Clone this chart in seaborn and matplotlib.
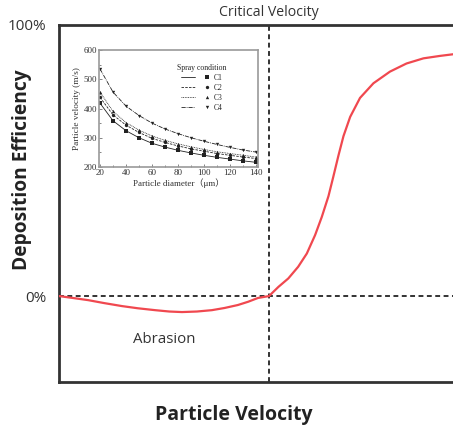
import matplotlib
matplotlib.use("Agg")
import matplotlib.pyplot as plt
from matplotlib.legend_handler import HandlerTuple
from matplotlib.lines import Line2D
import seaborn as sns
import pandas as pd

# Deposition efficiency (%) against particle velocity (arbitrary units)
velocity = [0, 3.5, 7.4, 11.5, 16.0, 20.0, 24.4, 28.0, 31.2, 35.0, 38.8, 42.0,
            45.4, 48.0, 50.5, 53.3, 55.7, 58.2, 60.7, 62.9, 65.0, 66.7, 68.4,
            69.6, 70.9, 72.2, 73.9, 76.4, 79.8, 84.0, 88.2, 92.5, 96.7, 100]
efficiency = [0, -0.7, -1.5, -2.6, -3.7, -4.5, -5.2, -5.7, -5.9, -5.7, -5.2, -4.4,
              -3.3, -2.1, -0.7, 0, 3.4, 6.5, 10.8, 15.7, 22.5, 29.2, 36.9,
              43.9, 51.7, 59.0, 66.1, 73.1, 78.5, 82.8, 85.8, 87.7, 88.6, 89.2]
critical_velocity = 53.3

# Particle velocity (m/s) against particle diameter (um) for four spray conditions
diameter = [20, 30, 40, 50, 60, 70, 80, 90, 100, 110, 120, 130, 140]
c1 = [418, 358, 324, 300, 281, 268, 257, 248, 240, 233, 227, 221, 216]
c2 = [438, 378, 343, 318, 298, 284, 272, 262, 254, 246, 240, 234, 229]
c3 = [456, 390, 352, 326, 306, 291, 279, 269, 260, 252, 246, 240, 234]
c4 = [535, 456, 408, 376, 350, 330, 314, 300, 288, 277, 267, 258, 251]
conditions = ["C1", "C2", "C3", "C4"]

sns.set_style("white")
plt.rcParams["font.family"] = ["Open Sans", "DejaVu Sans"]

fig = plt.figure(figsize=(4.53, 4.28), dpi=100)
ax = fig.add_axes([59 / 453, 1 - 382 / 428, 394 / 453, 357 / 428])

main = pd.DataFrame({"velocity": velocity, "efficiency": efficiency})
sns.lineplot(data=main, x="velocity", y="efficiency", ax=ax, color="#f0484f",
             linewidth=1.6, sort=False, zorder=3)

ax.axhline(0, color="#333333", linestyle=(0, (2.5, 1.8)), linewidth=1.4, zorder=2)
ax.axvline(critical_velocity, color="#333333", linestyle=(0, (2.5, 1.8)),
           linewidth=1.4, zorder=2)

ax.set_xlim(0, 100)
ax.set_ylim(-31.7, 100)
ax.set_xticks([])
ax.set_yticks([0, 100])
ax.set_yticklabels(["0%", "100%"])
ax.tick_params(axis="y", length=0, pad=9, labelsize=11, labelcolor="#333333")
ax.set_xlabel("")
ax.set_ylabel("")
for side in ["left", "top", "bottom"]:
    ax.spines[side].set_color("#333333")
    ax.spines[side].set_linewidth(2)
ax.spines["right"].set_visible(False)

ax.text(critical_velocity, 1.036, "Critical Velocity", transform=ax.get_xaxis_transform(),
        ha="center", va="center", fontsize=10.2, color="#333333")
ax.text(26.6, -16.2, "Abrasion", ha="center", va="center", fontsize=10.8, color="#333333")
fig.text(234 / 453, 1 - 415 / 428, "Particle Velocity", ha="center", va="center",
         fontsize=14, fontweight="bold", color="#222222")
fig.text(22 / 453, 1 - 170 / 428, "Deposition Efficiency", ha="center", va="center",
         rotation=90, fontsize=13.8, fontweight="bold", color="#222222")

# Inset: particle velocity versus diameter
serif = ["Liberation Serif", "Noto Sans CJK SC"]
ins = fig.add_axes([99 / 453, 1 - 167 / 428, 159 / 453, 117 / 428])
styles = ["-", (0, (3, 1.5)), (0, (1, 1)), (0, (5, 1.2, 1, 1.2))]
markers = ["s", "o", "^", "v"]
handles = []
for name, vals, ls, mk in zip(conditions, [c1, c2, c3, c4], styles, markers):
    df = pd.DataFrame({"diameter": diameter, "vel": vals})
    sns.lineplot(data=df, x="diameter", y="vel", ax=ins, color="#222222",
                 linewidth=0.6, linestyle=ls, marker=mk, markersize=2.4,
                 markeredgewidth=0)
    h_line = Line2D([], [], color="#222222", linewidth=0.6, linestyle=ls)
    h_mark = Line2D([], [], color="#222222", marker=mk, markersize=2.4,
                    linestyle="none", markeredgewidth=0)
    handles.append((h_line, h_mark))

ins.set_xlim(19.2, 141.5)
ins.set_ylim(200, 600)
ins.set_xticks(range(20, 141, 20))
ins.set_yticks(range(200, 601, 100))
ins.set_xticks(range(30, 141, 20), minor=True)
ins.set_yticks(range(250, 600, 100), minor=True)
ins.tick_params(which="both", direction="in", length=2, width=0.5, color="#555555",
                labelsize=6.5, pad=1.5, labelcolor="#333333", bottom=True, left=True)
ins.tick_params(which="minor", length=1.2)
for lab in ins.get_xticklabels() + ins.get_yticklabels():
    lab.set_fontfamily(serif)
ins.set_xlabel("Particle diameter（μm）", fontsize=6.5, family=serif, labelpad=1,
               color="#333333")
ins.set_ylabel("Particle velocity (m/s)", fontsize=6.7, family=serif, labelpad=2,
               color="#333333")
for side in ins.spines.values():
    side.set_color("#9a9a9a")
    side.set_linewidth(1.2)

leg = ins.legend(handles, conditions, title="Spray condition", loc="upper right",
                 bbox_to_anchor=(0.80, 0.88), frameon=False,
                 handler_map={tuple: HandlerTuple(ndivide=None, pad=0.65)},
                 handlelength=4.3, handletextpad=0.0, labelspacing=0.25,
                 borderaxespad=0.0, borderpad=0.0,
                 prop={"family": serif, "size": 5.5})
leg.get_title().set_fontfamily(serif)
leg.get_title().set_fontsize(5.6)

fig.savefig("out.png", dpi=100)
